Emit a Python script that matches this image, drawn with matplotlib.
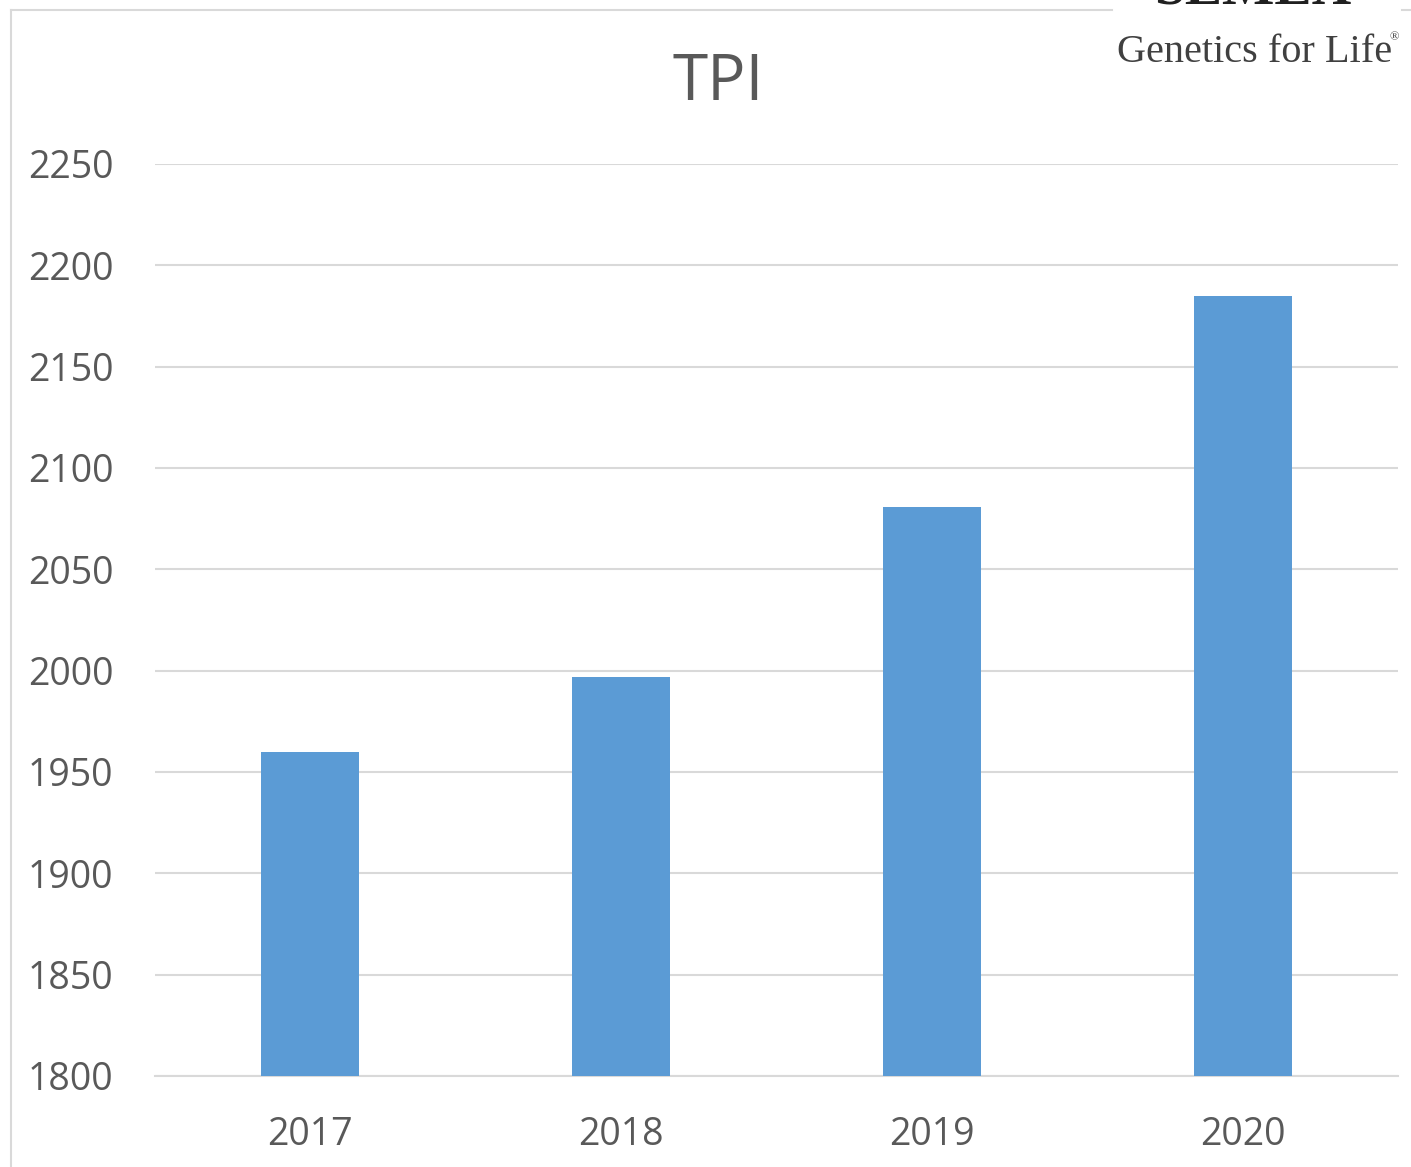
import matplotlib.pyplot as plt
from matplotlib.lines import Line2D

years = ["2017", "2018", "2019", "2020"]
tpi = [1960, 1997, 2081, 2185]
yticks = [1800, 1850, 1900, 1950, 2000, 2050, 2100, 2150, 2200, 2250]

plt.rcParams['font.family'] = ['Open Sans', 'DejaVu Sans']
txt = '#595959'
grid = '#D9D9D9'

fig = plt.figure(figsize=(14.11, 11.67), dpi=100)
ax = fig.add_axes([155/1411, 1 - 1076/1167, 1243/1411, 912/1167])

ax.bar(range(len(years)), tpi, width=0.315, color='#5B9BD5', zorder=3)
ax.set_xlim(-0.5, 3.5)
ax.set_ylim(1800, 2250)
ax.set_yticks(yticks)
ax.set_xticks(range(len(years)))
ax.set_xticklabels(years)
ax.grid(axis='y', color=grid, linewidth=1.5, zorder=0)
for s in ['top', 'right', 'left']:
    ax.spines[s].set_visible(False)
ax.spines['bottom'].set_color(grid)
ax.spines['bottom'].set_linewidth(1.5)
ax.tick_params(axis='both', length=0, labelsize=27, labelcolor=txt)
ax.tick_params(axis='y', pad=30)
ax.tick_params(axis='x', pad=29)

fig.text(0.509, 1 - 83/1167, "TPI", ha='center', va='center', fontsize=46, color=txt)

# frame of the chart box
fig.add_artist(Line2D([11/1411, 11/1411], [0, 1 - 10/1167], color=grid, lw=1.5))
fig.add_artist(Line2D([11/1411, 1112/1411], [1 - 10/1167, 1 - 10/1167], color=grid, lw=1.5))
fig.add_artist(Line2D([1402/1411, 1], [1 - 10/1167, 1 - 10/1167], color=grid, lw=1.5))

# logo
fig.text(1117/1411, 1 - 62/1167, "Genetics for Life", ha='left', va='baseline',
         fontsize=29, color='#404040', family='Liberation Serif')
fig.text(1390/1411, 1 - 40/1167, "®", ha='left', va='baseline',
         fontsize=9, color='#404040', family='Liberation Serif')
fig.text(1253/1411, 1 - 3/1167, "SEMEX", ha='center', va='baseline',
         fontsize=40, color='#202020', family='Liberation Serif', weight='bold')

plt.savefig('out.png', dpi=100)
